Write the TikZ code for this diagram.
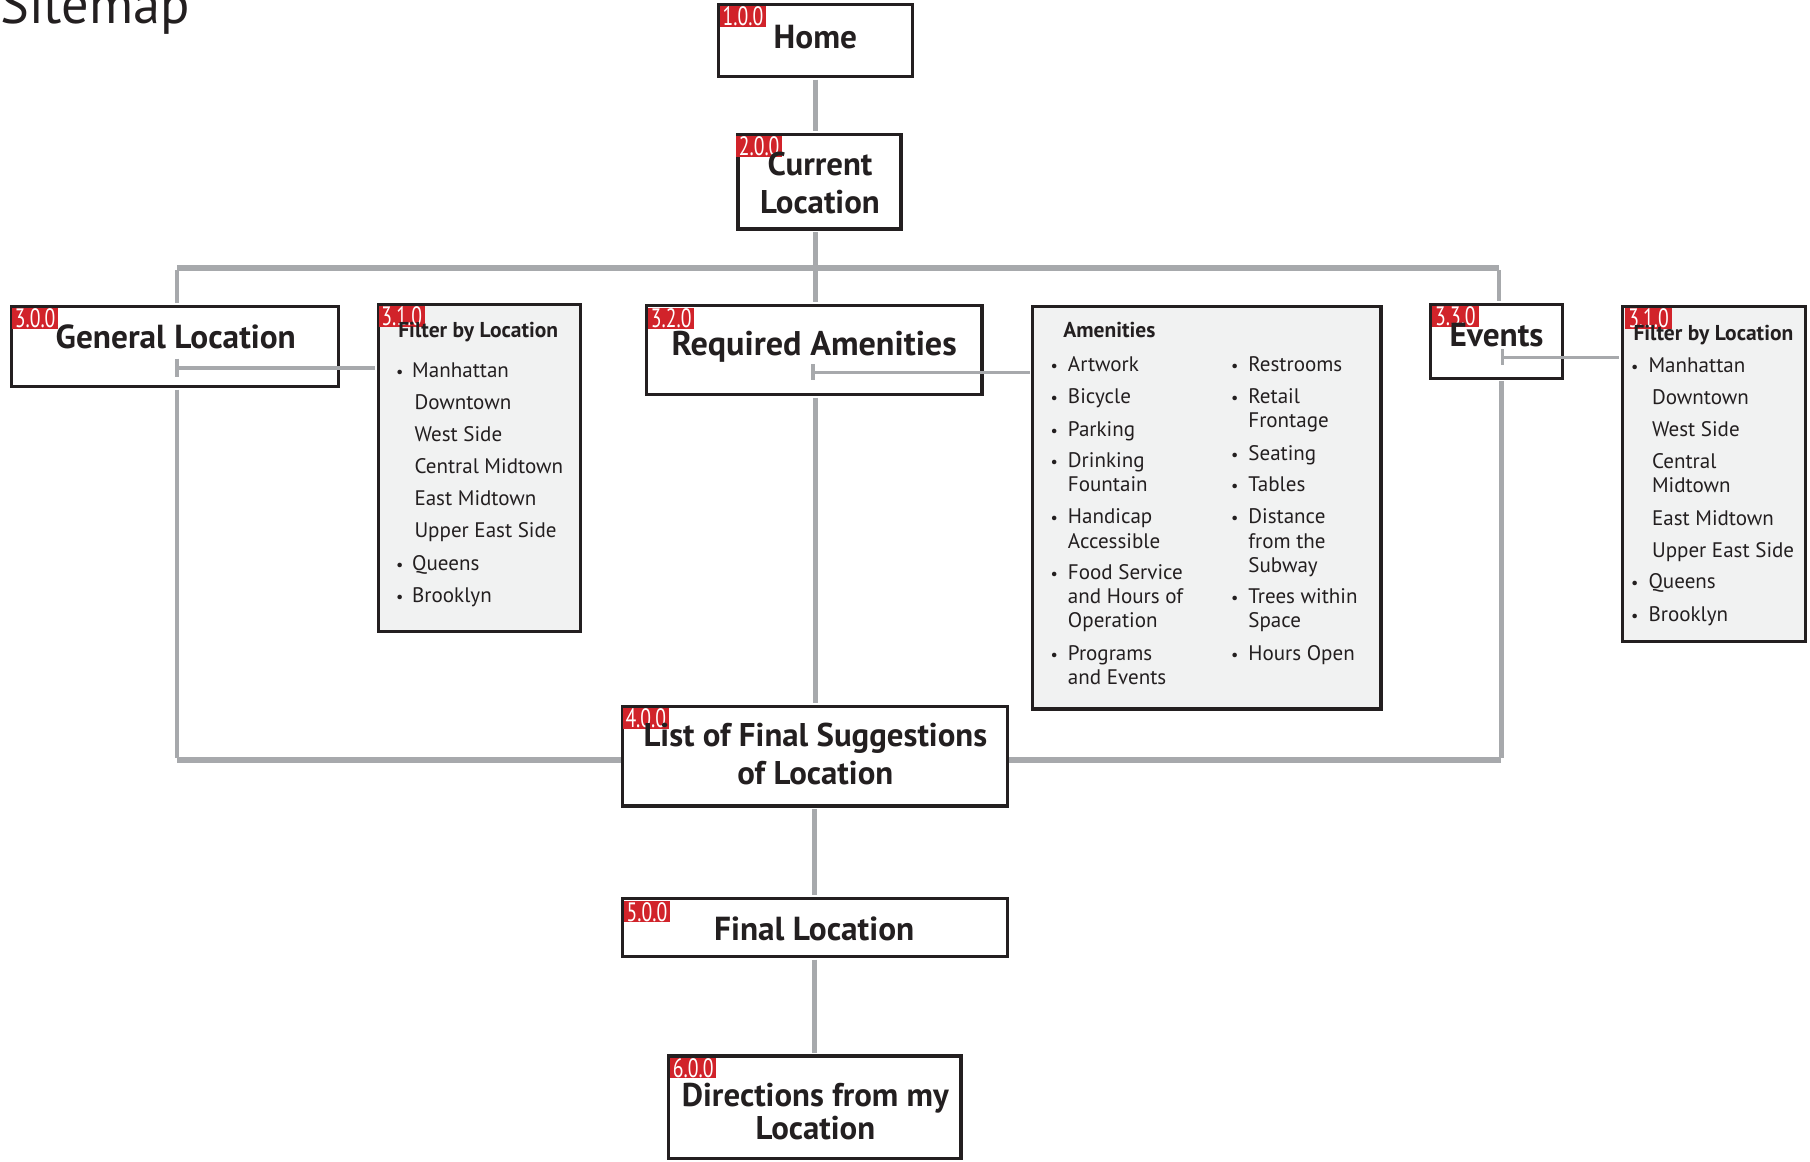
\documentclass[tikz,border=0pt]{standalone}
\usepackage{fontspec}
\setmainfont{PT Sans}
\usetikzlibrary{fit}
\definecolor{ink}{HTML}{231F20}
\definecolor{lk}{HTML}{A7A9AC}
\definecolor{tagred}{HTML}{D1232A}
\definecolor{panel}{HTML}{F1F2F2}
\begin{document}
\begin{tikzpicture}[x=0.5pt,y=-0.5pt,
  box/.style={draw=ink, line width=1.4pt, fill=white, inner sep=0pt},
  pbox/.style={box, fill=panel},
  tag/.style={fill=tagred, text=white, inner sep=0pt, minimum width=20pt, minimum height=9pt, anchor=north west, font=\fontsize{11.5}{11.5}\selectfont},
  ttl/.style={text=ink, font=\fontsize{14.4}{16}\selectfont\bfseries, inner sep=0pt},
  hd/.style={text=ink, font=\fontsize{9.3}{11}\selectfont\bfseries, inner sep=0pt, anchor=base west},
  itm/.style={text=ink, font=\fontsize{9.1}{11}\selectfont, inner sep=0pt, anchor=base west},
  bul/.style={text=ink, font=\fontsize{7}{8}\selectfont, inner sep=0pt, anchor=base west},
  link/.style={draw=lk, line width=2pt, shorten <=0.7pt, shorten >=0.7pt},
  bus/.style={draw=lk, line width=2.6pt},
  tlink/.style={draw=lk, line width=1.6pt},
]
\useasboundingbox (0,0) rectangle (1565,1004);
\newcommand\tg[3]{\node[tag] (#1) at (#2) {\scalebox{0.74}[1]{#3}};}

% title
\node[text=ink, font=\fontsize{23.5}{26}\selectfont, inner sep=0pt, anchor=base west] (sitemap) at (0,20) {Sitemap};

% boxes
\node[box, fit={(621,4) (789,66)}] (home) {};
\node[box, fit={(638,116) (779,198)}] (cur) {};
\node[box, fit={(10,265) (293,334)}] (gen) {};
\node[pbox, fit={(327,263) (502,546)}] (fl) {};
\node[box, fit={(559,264) (849,341)}] (req) {};
\node[pbox, fit={(893,265) (1194,613)}] (am) {};
\node[box, fit={(1237,263) (1351,327)}] (ev) {};
\node[pbox, fit={(1403,265) (1561,555)}] (fr) {};
\node[box, fit={(538,611) (871,697)}] (list) {};
\node[box, fit={(538,777) (871,827)}] (fin) {};
\node[box, fit={(578,913) (831,1002)}] (dir) {};

% connectors
\coordinate (busL) at (153,232);
\coordinate (busM) at (705,232);
\coordinate (busR) at (1296,232);
\coordinate (botL) at (153,657);
\coordinate (botR) at (1298,657);
\coordinate (gT) at (153,318);
\coordinate (rT) at (703,322);
\coordinate (eT) at (1299,309);

\draw[link] (home.south) -- (home.south |- cur.north);
\draw[link] (cur.south -| busM) -- (busM);
\draw[bus] (busL) -- (busR);
\draw[link] (busL) -- (busL |- gen.north);
\draw[link] (busM) -- (busM |- req.north);
\draw[link] (busR) -- (busR |- ev.north);
\draw[tlink, shorten >=0.7pt] (gT) -- (gT -| fl.west);
\draw[tlink] ([yshift=4pt]gT) -- ([yshift=-4pt]gT);
\draw[tlink, shorten >=0.7pt] (rT) -- (rT -| am.west);
\draw[tlink] ([yshift=3.5pt]rT) -- ([yshift=-3.5pt]rT);
\draw[tlink, shorten >=0.7pt] (eT) -- (eT -| fr.west);
\draw[tlink] ([yshift=3.5pt]eT) -- ([yshift=-3.5pt]eT);
\draw[link] (gen.south -| botL) -- (botL);
\draw[bus] (botL) -- (botL -| list.west);
\draw[link] (ev.south -| botR) -- (botR);
\draw[bus] (botR) -- (botR -| list.east);
\draw[link] (req.south -| busM) -- (busM |- list.north);
\draw[link] (list.south) -- (fin.north);
\draw[link] (fin.south) -- (dir.north);

% tags
\tg{t1}{622,5}{1.0.0}
\tg{t2}{636,117}{2.0.0}
\tg{t3}{10,266}{3.0.0}
\tg{t4}{327,264}{3.1.0}
\tg{t5}{560,266}{3.2.0}
\tg{t6}{1238,264}{3.3.0}
\tg{t7}{1405,266}{3.1.0}
\tg{t8}{538,612}{4.0.0}
\tg{t9}{539,779}{5.0.0}
\tg{t10}{579,914}{6.0.0}

% titles
\node[ttl] (homeT) at (705,32) {Home};
\node[ttl, align=center, font=\fontsize{14.2}{16.5}\selectfont\bfseries] (curT) at (709,158) {Current\\Location};
\node[ttl] (genT) at (152,291) {General Location};
\node[ttl, font=\fontsize{14.8}{16}\selectfont\bfseries] (reqT) at (704,300) {Required Amenities};
\node[ttl] (evT) at (1294,290) {Events};
\node[ttl, align=center, font=\fontsize{14.2}{16.5}\selectfont\bfseries] (listT) at (705,652) {List of Final Suggestions\\of Location};
\node[ttl] (finT) at (704,803) {Final Location};
\node[ttl, align=center, font=\fontsize{14.2}{14}\selectfont\bfseries] (dirT) at (705,961) {Directions from my\\Location};

% left filter
\node[hd] (flH) at (344,292) {Filter by Location};
\foreach \y/\t [count=\i] in {326/Manhattan, 493/Queens, 521/Brooklyn}{
  \node[bul] (flb\i) at (342,\y) {\textbullet};
  \node[itm] (fli\i) at (356,\y) {\t};}
\foreach \y/\t [count=\i] in {354/Downtown, 382/West Side, 409/Central Midtown, 437/East Midtown, 465/Upper East Side}{
  \node[itm] (flj\i) at (358,\y) {\t};}

% amenities
\node[hd] (amH) at (919,292) {Amenities};
\foreach \y in {321,349,377,404,453,501,571}{\node[bul] at (908,\y) {\textbullet};}
\foreach \y/\t [count=\i] in {321/Artwork, 349/Bicycle, 377/Parking, 404/Drinking, 425/Fountain, 453/Handicap, 474/Accessible, 501/Food Service, 522/and Hours of, 543/Operation, 571/Programs, 592/and Events}{
  \node[itm] (aml\i) at (923,\y) {\t};}
\foreach \y in {321,349,398,425,453,522,571}{\node[bul] at (1064,\y) {\textbullet};}
\foreach \y/\t [count=\i] in {321/Restrooms, 349/Retail, 370/Frontage, 398/Seating, 425/Tables, 453/Distance, 474/from the, 495/Subway, 522/Trees within, 543/Space, 571/Hours Open}{
  \node[itm] (amr\i) at (1079,\y) {\t};}

% right filter
\node[hd] (frH) at (1412,294) {Filter by Location};
\foreach \y/\t [count=\i] in {322/Manhattan, 509/Queens, 537/Brooklyn}{
  \node[bul] (frb\i) at (1410,\y) {\textbullet};
  \node[itm] (fri\i) at (1425,\y) {\t};}
\foreach \y/\t [count=\i] in {350/Downtown, 377/West Side, 405/Central, 426/Midtown, 454/East Midtown, 482/Upper East Side}{
  \node[itm] (frj\i) at (1428,\y) {\t};}
\end{tikzpicture}
\end{document}
